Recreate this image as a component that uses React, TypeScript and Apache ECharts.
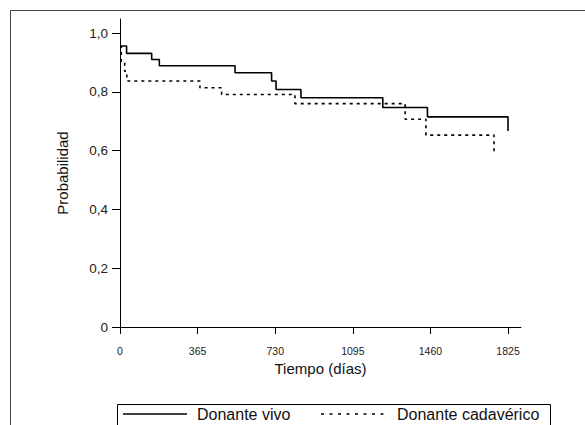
import React, { useEffect, useRef } from "react";
import * as echarts from "echarts";

const xTicks = [0, 365, 730, 1095, 1460, 1825];
const yTicks = [0, 0.2, 0.4, 0.6, 0.8, 1.0];
const vivoDays = [0, 31, 149, 185, 541, 713, 734, 851, 1236, 1446, 1825];
const vivoProb = [0.956, 0.931, 0.910, 0.889, 0.865, 0.837, 0.808, 0.780, 0.747, 0.715, 0.667];
const cadDays = [0, 6, 22, 32, 376, 478, 823, 1341, 1439, 1759];
const cadProb = [0.955, 0.90, 0.87, 0.837, 0.814, 0.791, 0.76, 0.707, 0.653, 0.593];
const seriesNames = ["Donante vivo", "Donante cadavérico"];

const FONT = "Liberation Sans, Arial, sans-serif";

export default function App() {
  const ref = useRef<HTMLDivElement>(null);
  useEffect(() => {
    document.body.style.margin = "0";
    const chart = echarts.init(ref.current!, null, { renderer: "svg" });
    const vivo = vivoDays.map((d, i) => [d, vivoProb[i]]);
    const cad = cadDays.map((d, i) => [d, cadProb[i]]);
    chart.setOption({
      animation: false,
      backgroundColor: "#fff",
      grid: { left: 120, top: 19, right: 64, bottom: 98 },
      xAxis: {
        type: "value",
        min: 0,
        max: 1886,
        name: "Tiempo (días)",
        nameLocation: "middle",
        nameGap: 32,
        nameTextStyle: { fontFamily: FONT, fontSize: 15, color: "#111" },
        axisLine: { onZero: false, lineStyle: { color: "#000", width: 1 } },
        axisTick: { show: true, length: 7, lineStyle: { color: "#000" }, customValues: xTicks },
        axisLabel: {
          customValues: xTicks,
          margin: 18,
          fontFamily: FONT,
          fontSize: 10.5,
          color: "#222",
          formatter: (v: number) => String(v),
        },
        splitLine: { show: false },
      },
      yAxis: {
        type: "value",
        min: 0,
        max: 1.048,
        name: "Probabilidad",
        nameLocation: "middle",
        nameGap: 50,
        nameTextStyle: { fontFamily: FONT, fontSize: 15, color: "#111" },
        axisLine: { show: true, lineStyle: { color: "#000", width: 1 } },
        axisTick: { show: true, length: 8, lineStyle: { color: "#000" }, customValues: yTicks },
        axisLabel: {
          customValues: yTicks,
          margin: 12,
          fontFamily: FONT,
          fontSize: 13.5,
          color: "#222",
          formatter: (v: number) => (v === 0 ? "0" : v.toFixed(1).replace(".", ",")),
        },
        splitLine: { show: false },
      },
      series: [
        {
          name: seriesNames[0],
          type: "line",
          step: "end",
          symbol: "none",
          data: vivo,
          lineStyle: { color: "#000", width: 1.6 },
        },
        {
          name: seriesNames[1],
          type: "line",
          step: "end",
          symbol: "none",
          data: cad,
          lineStyle: { color: "#000", width: 1.6, type: [3, 4] },
        },
      ],
      graphic: [
        {
          type: "rect",
          shape: { x: 10.5, y: 10.5, width: 700, height: 600 },
          style: { fill: "none", stroke: "#444", lineWidth: 1 },
          silent: true,
        },
        {
          type: "rect",
          shape: { x: 117.5, y: 404.5, width: 433, height: 60 },
          style: { fill: "#fff", stroke: "#000", lineWidth: 1 },
          silent: true,
        },
        {
          type: "line",
          shape: { x1: 123, y1: 414, x2: 187, y2: 414 },
          style: { stroke: "#000", lineWidth: 1.6 },
          silent: true,
        },
        {
          type: "text",
          x: 197,
          y: 414,
          style: { text: seriesNames[0], fontFamily: FONT, fontSize: 16, fill: "#111", verticalAlign: "middle" },
          silent: true,
        },
        {
          type: "line",
          shape: { x1: 321, y1: 414, x2: 385, y2: 414 },
          style: { stroke: "#000", lineWidth: 1.6, lineDash: [3, 5.5] },
          silent: true,
        },
        {
          type: "text",
          x: 397,
          y: 414,
          style: { text: seriesNames[1], fontFamily: FONT, fontSize: 16, fill: "#111", verticalAlign: "middle" },
          silent: true,
        },
      ],
    });
    return () => chart.dispose();
  }, []);
  return <div ref={ref} style={{ width: 585, height: 425 }} />;
}
